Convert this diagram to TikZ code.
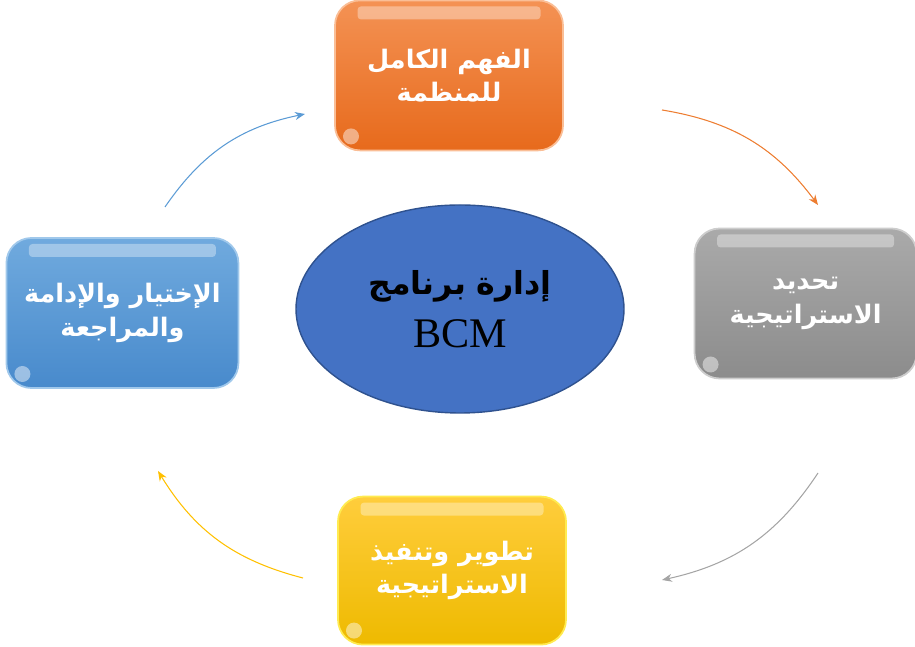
\documentclass[tikz,border=0pt]{standalone}
\usepackage{fontspec}
\setmainfont{Liberation Serif}
\newfontfamily\arabicfont[Script=Arabic]{DejaVu Sans}
\TeXXeTstate=1
\usepackage{tikz}
\usetikzlibrary{arrows.meta,positioning,shapes.geometric,calc}
\newcommand{\rtl}[1]{\beginR#1\endR}
\definecolor{orgtop}{RGB}{244,146,84}
\definecolor{orgbot}{RGB}{231,106,28}
\definecolor{orgline}{RGB}{250,190,150}
\definecolor{grytop}{RGB}{170,170,170}
\definecolor{grybot}{RGB}{140,140,140}
\definecolor{gryline}{RGB}{205,205,205}
\definecolor{yeltop}{RGB}{255,205,60}
\definecolor{yelbot}{RGB}{238,186,0}
\definecolor{yelline}{RGB}{255,235,80}
\definecolor{blutop}{RGB}{112,170,222}
\definecolor{blubot}{RGB}{72,138,204}
\definecolor{bluline}{RGB}{160,200,235}
\definecolor{corefill}{RGB}{68,114,196}
\definecolor{coreline}{RGB}{47,82,143}
\definecolor{arrorg}{RGB}{237,125,49}
\definecolor{arrgry}{RGB}{165,165,165}
\definecolor{arryel}{RGB}{255,192,0}
\definecolor{arrblu}{RGB}{91,155,213}
\tikzset{
  >={Stealth[length=2mm,width=1.6mm]},
  stagebox/.style={draw, line width=1pt, rounded corners=0.5cm, align=center,
    minimum width=4.56cm, minimum height=3cm, text=white,
    font=\arabicfont\bfseries\fontsize{14.5}{19}\selectfont,
    path picture={
      \fill[white, opacity=0.35, rounded corners=2pt]
        ($(path picture bounding box.north west)+(0.45,-0.12)$) rectangle
        ($(path picture bounding box.north east)+(-0.45,-0.38)$);
      \fill[white, opacity=0.45]
        ($(path picture bounding box.south west)+(0.32,0.28)$) circle (0.16);
    }},
  coreellipse/.style={ellipse, draw=coreline, line width=0.8pt, fill=corefill,
    minimum width=6.56cm, minimum height=4.16cm, align=center, inner sep=0pt},
  cyclearrow/.style={->, line width=0.6pt, bend left=22},
}
\begin{document}
\begin{tikzpicture}
  \useasboundingbox (0,0) rectangle (18.3,12.94);

  \node[coreellipse] (core) at (9.2,6.76)
    {{\arabicfont\bfseries\fontsize{18}{22}\selectfont\rtl{إدارة برنامج}}\\[9pt]
     {\fontsize{24}{26}\selectfont BCM}};

  \node[stagebox, draw=orgline, top color=orgtop, bottom color=orgbot,
    above=1.06cm of core, xshift=-0.22cm] (understand)
    {\rtl{الفهم الكامل}\\\rtl{للمنظمة}};
  \node[stagebox, draw=gryline, top color=grytop, bottom color=grybot,
    minimum width=4.44cm, right=1.38cm of core, yshift=0.11cm] (strategy)
    {\rtl{تحديد}\\\rtl{الاستراتيجية}};
  \node[stagebox, draw=yelline, top color=yeltop, bottom color=yelbot,
    minimum height=2.96cm, below=1.64cm of core, xshift=-0.16cm] (implement)
    {\rtl{تطوير وتنفيذ}\\\rtl{الاستراتيجية}};
  \node[stagebox, draw=bluline, top color=blutop, bottom color=blubot,
    minimum width=4.64cm, left=1.12cm of core, yshift=-0.08cm] (review)
    {\rtl{الإختيار والإدامة}\\\rtl{والمراجعة}};

  % arrow ends around the cycle
  \coordinate (a1) at (13.24,10.74);
  \coordinate (a2) at (16.36,8.84);
  \coordinate (b1) at (16.36,3.48);
  \coordinate (b2) at (13.24,1.34);
  \coordinate (c1) at (6.06,1.38);
  \coordinate (c2) at (3.16,3.52);
  \coordinate (d1) at (3.30,8.80);
  \coordinate (d2) at (6.10,10.66);

  \draw[cyclearrow, arrorg] (a1) to (a2);
  \draw[cyclearrow, arrgry] (b1) to (b2);
  \draw[cyclearrow, arryel] (c1) to (c2);
  \draw[cyclearrow, arrblu] (d1) to (d2);
\end{tikzpicture}
\end{document}
